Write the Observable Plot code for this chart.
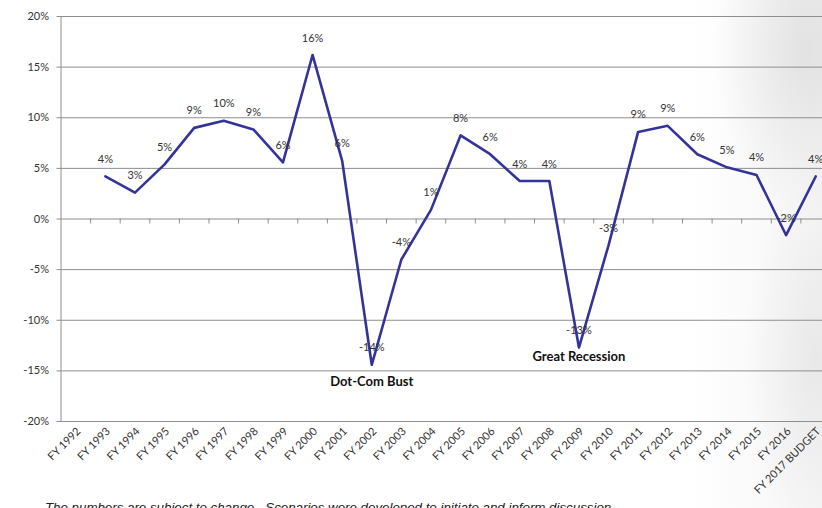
<!DOCTYPE html>
<html>
<head>
<meta charset="utf-8">
<script src="https://cdn.jsdelivr.net/npm/d3@7"></script>
<script src="https://cdn.jsdelivr.net/npm/@observablehq/plot@0.6"></script>
<style>
  body { margin: 0; background: #fff; }
  #wrap { position: relative; width: 822px; height: 508px; overflow: hidden; background: #fff; }
  #haze {
    position: absolute; left: 690px; top: 0; width: 132px; height: 508px;
    background:
      radial-gradient(ellipse 90px 170px at 115px 50px, rgba(195,195,195,0.40), rgba(255,255,255,0) 100%),
      radial-gradient(ellipse 70px 180px at 125px 360px, rgba(205,205,205,0.32), rgba(255,255,255,0) 100%),
      linear-gradient(to right, rgba(235,235,235,0) 0%, rgba(230,230,230,0.40) 100%);
  }
  #chart { position: absolute; left: 0; top: 0; }
  #note {
    position: absolute; left: 45px; top: 500px; white-space: pre;
    font: italic 13.3px "Liberation Sans", Arial, sans-serif; color: #222;
  }
</style>
</head>
<body>
<div id="wrap">
  <div id="haze"></div>
  <div id="chart"></div>
  <div id="note">The numbers are subject to change.  Scenarios were developed to initiate and inform discussion.</div>
</div>
<script>
// Fiscal-year categories along the x axis
const categories = [
  "FY 1992", "FY 1993", "FY 1994", "FY 1995", "FY 1996", "FY 1997", "FY 1998",
  "FY 1999", "FY 2000", "FY 2001", "FY 2002", "FY 2003", "FY 2004", "FY 2005",
  "FY 2006", "FY 2007", "FY 2008", "FY 2009", "FY 2010", "FY 2011", "FY 2012",
  "FY 2013", "FY 2014", "FY 2015", "FY 2016", "FY 2017 BUDGET"
];

// Years that carry a growth value (series starts at FY 1993)
const fiscalYears = categories.slice(1);

// Year-over-year growth, percent
const growthPct = [
  4.2, 2.6, 5.4, 9.0, 9.7, 8.85, 5.6, 16.2, 5.75, -14.4, -4.0, 0.9, 8.25,
  6.4, 3.75, 3.75, -12.7, -2.6, 8.6, 9.2, 6.4, 5.1, 4.35, -1.6, 4.2
];

// Value-axis tick values, percent
const yTicks = [-20, -15, -10, -5, 0, 5, 10, 15, 20];

// Named downturns, attached to their trough years
const dotComYear = "FY 2002";
const dotComLabel = "Dot-Com Bust";
const recessionYear = "FY 2009";
const recessionLabel = "Great Recession";

const rows = fiscalYears.map((fy, k) => ({
  fy,
  i: categories.indexOf(fy),
  v: growthPct[k]
}));

// Category boundaries, where the small ticks sit on the zero line
const boundaries = categories.slice(1).map((c, k) => k + 0.5);

const gridColor = "#8e8e8e";
const lineColor = "#333399";

const chart = Plot.plot({
  width: 822,
  height: 500,
  marginTop: 16,
  marginBottom: 79,
  marginLeft: 60.5,
  marginRight: -8,
  style: { fontFamily: "Lato, 'Open Sans', sans-serif", fontSize: "11px", color: "#333", background: "transparent", overflow: "visible" },
  x: { type: "linear", domain: [-0.5, categories.length - 0.5], label: null },
  y: { domain: [-20, 20], label: null },
  marks: [
    Plot.ruleY(yTicks, { stroke: gridColor, strokeWidth: 1, insetLeft: -4 }),
    Plot.ruleX([-0.5], { stroke: gridColor, strokeWidth: 1 }),
    Plot.ruleX(boundaries, { y1: 0, y2: 0, insetBottom: -5, stroke: gridColor, strokeWidth: 1 }),
    Plot.axisY({ ticks: yTicks, tickFormat: d => d + "%", tickSize: 0, tickPadding: 12, fill: "#333", fontSize: 11, label: null }),
    Plot.axisX({
      ticks: d3.range(categories.length),
      tickFormat: i => categories[i],
      tickRotate: -45,
      tickSize: 0,
      tickPadding: 8,
      dx: 3,
      fill: "#333",
      fontSize: 11,
      label: null
    }),
    Plot.line(rows, { x: "i", y: "v", stroke: lineColor, strokeWidth: 2.6 }),
    Plot.text(rows, { x: "i", y: "v", text: d => Math.round(d.v) + "%", dy: -17, fill: "#333", fontSize: 11 }),
    Plot.text(rows.filter(d => d.fy === dotComYear), {
      x: "i", y: "v", text: () => dotComLabel, dy: 17.5, fontWeight: "bold", fontSize: 13, fill: "#111"
    }),
    Plot.text(rows.filter(d => d.fy === recessionYear), {
      x: "i", y: "v", text: () => recessionLabel, dy: 8.8, fontWeight: "bold", fontSize: 13, fill: "#111"
    })
  ]
});

document.getElementById("chart").appendChild(chart);
</script>
</body>
</html>
